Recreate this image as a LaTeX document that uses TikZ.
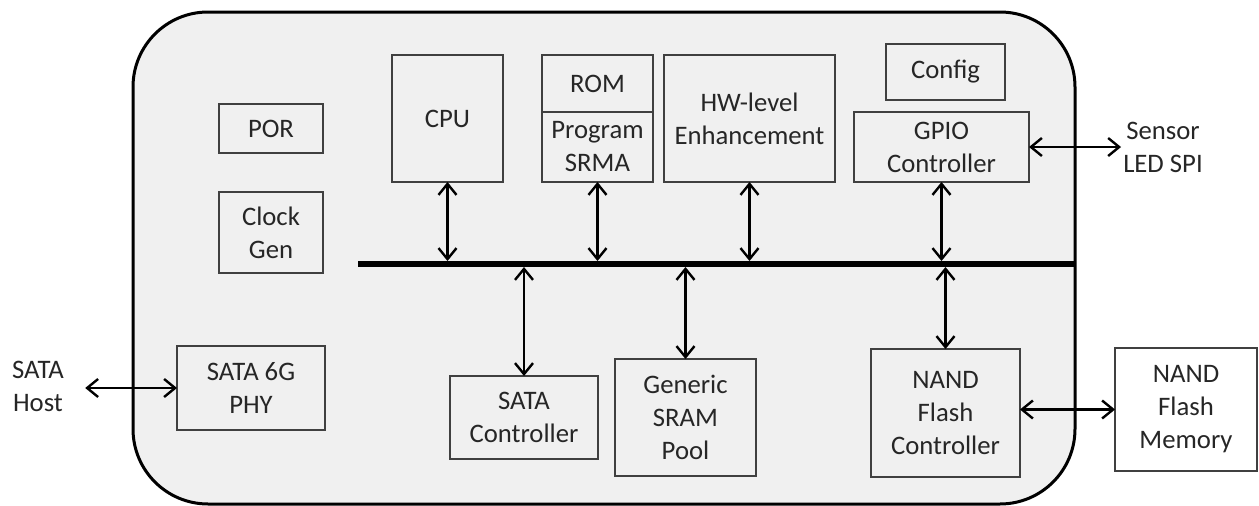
\documentclass[tikz,border=0pt]{standalone}
\usepackage{fontspec}
\setmainfont{Carlito}
\usetikzlibrary{arrows.meta,positioning}

\tikzstyle{chip} = [rectangle, draw, line width=3pt, fill=black!6,
rounded corners=75pt, inner sep=0pt, outer sep=0pt]
\tikzstyle{block} = [rectangle, draw=black!75, line width=1.5pt,
align=center, text=black!85, inner sep=0pt, outer sep=0pt]
\tikzstyle{port} = [align=center, text=black!85, inner sep=2pt]
\tikzstyle{bus} = [rectangle, fill=black, minimum height=6pt, inner sep=0pt, outer sep=0pt]
\tikzstyle{biarrow} = [draw, line width=2.4pt,
{Straight Barb[length=11pt,width=18pt]}-{Straight Barb[length=11pt,width=18pt]}]

\begin{document}
\begin{tikzpicture}[x=1pt, y=-1pt, font=\fontsize{26.7pt}{33pt}\selectfont]
\useasboundingbox (0,0) rectangle (1259,506);
\node [chip, minimum width=942pt, minimum height=492pt] (Chip) at (604,258) {};

\node [block, minimum width=104pt, minimum height=49pt] (POR) at (271,128.5) {POR};
\node [block, minimum width=104pt, minimum height=81pt] (ClockGen) at (271,232.5) {Clock\\Gen};
\node [block, minimum width=111pt, minimum height=127pt] (CPU) at (447.5,118.5) {CPU};
\node [block, minimum width=111pt, minimum height=57pt] (ROM) at (597.5,83.5) {ROM};
\node [block, minimum width=111pt, minimum height=70pt, below=0pt of ROM] (Program) {Program\\SRMA};
\node [block, minimum width=171pt, minimum height=127pt] (HW) at (749.5,118.5) {HW-level\\Enhancement};
\node [block, minimum width=119pt, minimum height=56pt] (Config) at (945.5,72) {Config};
\node [block, minimum width=175pt, minimum height=70pt] (GPIO) at (941.5,147) {GPIO\\Controller};

\node [bus, minimum width=717pt] (Bus) at (716.5,264) {};

\node [block, minimum width=148pt, minimum height=84pt] (PHY) at (251,388) {SATA 6G\\PHY};
\node [block, minimum width=148pt, minimum height=83pt] (SATActrl) at (524,417.5) {SATA\\Controller};
\node [block, minimum width=141pt, minimum height=117pt] (SRAM) at (685.5,417.5) {Generic\\SRAM\\Pool};
\node [block, minimum width=149pt, minimum height=128pt] (NANDctrl) at (945.5,413) {NAND\\Flash\\Controller};
\node [block, fill=white, minimum width=142pt, minimum height=123pt] (NANDmem) at (1186,409.5) {NAND\\Flash\\Memory};

\node [port, minimum width=94pt] (Host) at (38,386) {SATA\\Host};
\node [port] (Sensor) at (1163,147) {Sensor\\LED SPI};

% bus links
\path [biarrow] (CPU.south) -- (CPU.south |- Bus.north);
\path [biarrow] (Program.south) -- (Program.south |- Bus.north);
\path [biarrow] (HW.south) -- (HW.south |- Bus.north);
\path [biarrow] (GPIO.south) -- (GPIO.south |- Bus.north);
\path [biarrow] (SATActrl.north) -- (SATActrl.north |- Bus.south);
\path [biarrow] (SRAM.north) -- (SRAM.north |- Bus.south);
\path [biarrow] (NANDctrl.north) -- (NANDctrl.north |- Bus.south);

% outside links
\path [biarrow] (PHY.west) -- (Host.east |- PHY.west);
\path [biarrow] (GPIO.east) -- (Sensor.west |- GPIO.east);
\path [biarrow] (NANDctrl.east |- NANDmem.west) -- (NANDmem.west);
\end{tikzpicture}
\end{document}
